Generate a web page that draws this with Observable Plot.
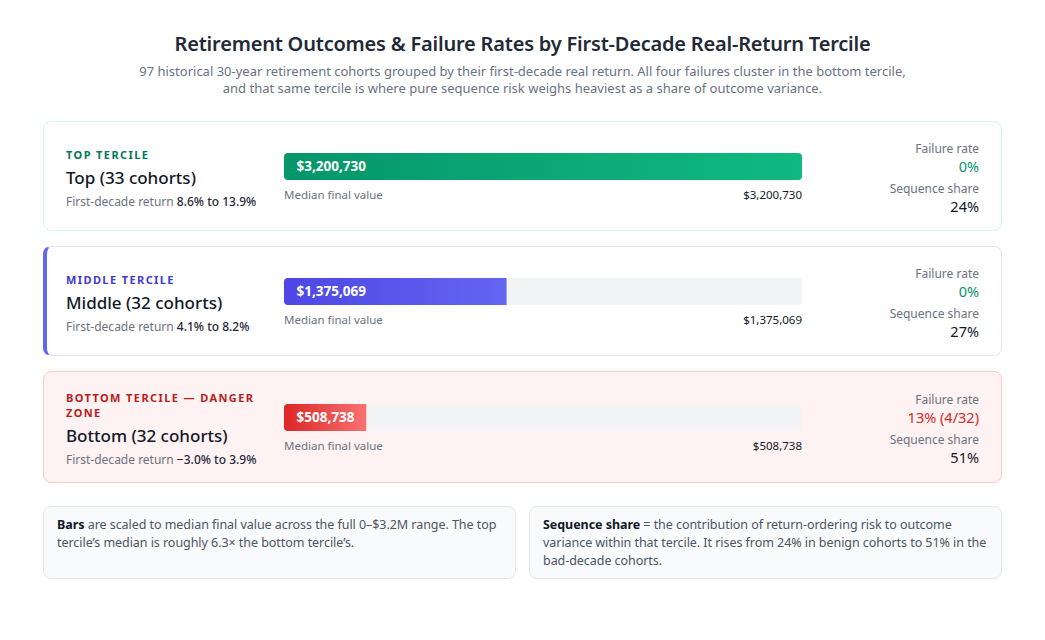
<!DOCTYPE html>
<html>
<head>
<meta charset="utf-8">
<script src="https://cdn.jsdelivr.net/npm/d3@7"></script>
<script src="https://cdn.jsdelivr.net/npm/@observablehq/plot@0.6"></script>
<style>
  html, body { margin: 0; padding: 0; background: #ffffff; }
  body { width: 1045px; height: 640px; font-family: "Noto Sans", "Open Sans", sans-serif; color: #111827; }
  .wrap { position: absolute; left: 43px; top: 0; width: 959px; }
  h1 { margin: 0; position: absolute; top: 30px; left: 0; width: 959px; text-align: center; font-size: 20px; font-weight: 600; color: #1f2937; letter-spacing: -0.2px; }
  .sub { position: absolute; top: 62.5px; left: 94px; width: 771px; text-align: center; font-size: 13px; line-height: 17.5px; color: #6b7280; }
  .cards { position: absolute; top: 121px; left: 0; width: 959px; }
  .card { box-sizing: border-box; width: 959px; height: 110px; border-radius: 8px; border: 1.5px solid #e5e7eb; background: #fff; margin-bottom: 15px; display: grid; grid-template-columns: 200px 518px 1fr; column-gap: 18px; align-items: center; padding: 0 22px 0 22px; }
  .card.top { border-color: #d1fae5; }
  .card.mid { border-color: #e0e7ff; border-left: 4px solid #6366f1; padding-left: 19px; }
  .card.bot { border-color: #fecaca; background: #fef2f2; height: 112px; }
  .left { position: relative; top: 2px; }
  .tag { font-size: 11px; font-weight: 700; letter-spacing: 1.4px; text-transform: uppercase; line-height: 15px; }
  .name { font-size: 17px; font-weight: 500; color: #111827; margin-top: 5px; line-height: 22px; }
  .range { font-size: 12px; color: #6b7280; margin-top: 5px; line-height: 16px; }
  .range b { color: #1f2937; font-weight: 500; }
  .barcell { position: relative; top: 1px; }
  .bar { border-radius: 4px; overflow: hidden; width: 518px; height: 27px; }
  .bar svg { display: block; }
  .below { display: flex; justify-content: space-between; font-size: 11.5px; margin-top: 8px; line-height: 14px; }
  .below .lab { color: #6b7280; }
  .below .val { color: #111827; }
  .stats { text-align: right; position: relative; top: 2px; }
  .stats .k { font-size: 12px; color: #6b7280; line-height: 17px; }
  .stats .v { font-size: 14.5px; line-height: 19px; color: #111827; }
  .stats .k2 { margin-top: 4px; }
  .notes { position: absolute; top: 506px; left: 0; width: 959px; display: grid; grid-template-columns: 473px 473px; column-gap: 13px; }
  .note { box-sizing: border-box; height: 73px; background: #f9fafb; border: 1px solid #e5e7eb; border-radius: 8px; padding: 9px 8px 9px 13px; font-size: 12.5px; line-height: 18px; color: #4b5563; letter-spacing: -0.05px; }
  .note b { color: #111827; font-weight: 700; }
</style>
</head>
<body>
<div class="wrap">
  <h1 id="title"></h1>
  <div class="sub" id="subtitle"></div>
  <div class="cards" id="cards"></div>
  <div class="notes" id="notes"></div>
</div>
<script>
// ---- data ----
const title = "Retirement Outcomes & Failure Rates by First-Decade Real-Return Tercile";
const subtitle = "97 historical 30-year retirement cohorts grouped by their first-decade real return. All four failures cluster in the bottom tercile, and that same tercile is where pure sequence risk weighs heaviest as a share of outcome variance.";
const terciles = ["Top", "Middle", "Bottom"];
const tags = ["Top tercile", "Middle tercile", "Bottom tercile — danger zone"];
const cohorts = [33, 32, 32];
const returnLow = ["8.6%", "4.1%", "−3.0%"];
const returnHigh = ["13.9%", "8.2%", "3.9%"];
const medianFinal = [3200730, 1375069, 508738];
const failureRate = ["0%", "0%", "13% (4/32)"];
const sequenceShare = [24, 27, 51];
const scaleMax = 3200730;

// ---- styles per tercile ----
const cls = ["top", "mid", "bot"];
const tagColor = ["#047857", "#4338ca", "#b91c1c"];
const failColor = ["#059669", "#059669", "#dc2626"];
const gradFrom = ["#059669", "#4f46e5", "#dc2626"];
const gradTo = ["#10b981", "#6366f1", "#f87171"];

const fmt = d3.format("$,.0f");

document.getElementById("title").textContent = title;
document.getElementById("subtitle").textContent = subtitle;

const cards = document.getElementById("cards");
terciles.forEach((t, i) => {
  const card = document.createElement("div");
  card.className = "card " + cls[i];
  card.innerHTML = `
    <div class="left">
      <div class="tag" style="color:${tagColor[i]}">${tags[i]}</div>
      <div class="name">${t} (${cohorts[i]} cohorts)</div>
      <div class="range">First-decade return <b>${returnLow[i]} to ${returnHigh[i]}</b></div>
    </div>
    <div class="barcell">
      <div class="bar"></div>
      <div class="below"><span class="lab">Median final value</span><span class="val">${fmt(medianFinal[i])}</span></div>
    </div>
    <div class="stats">
      <div class="k">Failure rate</div>
      <div class="v" style="color:${failColor[i]}">${failureRate[i]}</div>
      <div class="k k2">Sequence share</div>
      <div class="v">${sequenceShare[i]}%</div>
    </div>`;
  cards.appendChild(card);

  const row = [{tercile: t, value: medianFinal[i]}];
  const gid = "grad" + i;
  const chart = Plot.plot({
    width: 518, height: 27,
    margin: 0,
    x: {domain: [0, scaleMax], axis: null},
    y: {axis: null},
    marks: [
      Plot.barX([{v: scaleMax}], {x: "v", fill: "#f3f4f6"}),
      Plot.barX(row, {x: "value", fill: `url(#${gid})`}),
      Plot.text(row, {x: () => 0, text: d => fmt(d.value), textAnchor: "start", dx: 12, fill: "white", fontSize: 13.5, fontWeight: 700})
    ]
  });
  const ns = "http://www.w3.org/2000/svg";
  const defs = document.createElementNS(ns, "defs");
  const lg = document.createElementNS(ns, "linearGradient");
  lg.setAttribute("id", gid);
  lg.setAttribute("x1", "0"); lg.setAttribute("x2", "1"); lg.setAttribute("y1", "0"); lg.setAttribute("y2", "0");
  [[0, gradFrom[i]], [1, gradTo[i]]].forEach(([o, c]) => {
    const s = document.createElementNS(ns, "stop");
    s.setAttribute("offset", o); s.setAttribute("stop-color", c);
    lg.appendChild(s);
  });
  defs.appendChild(lg);
  chart.insertBefore(defs, chart.firstChild);
  chart.style.fontFamily = "inherit";
  card.querySelector(".bar").appendChild(chart);
});

const notes = document.getElementById("notes");
notes.innerHTML = `
  <div class="note"><b>Bars</b> are scaled to median final value across the full 0–$3.2M range. The top tercile’s median is roughly 6.3× the bottom tercile’s.</div>
  <div class="note"><b>Sequence share</b> = the contribution of return-ordering risk to outcome variance within that tercile. It rises from 24% in benign cohorts to 51% in the bad-decade cohorts.</div>`;
</script>
</body>
</html>
